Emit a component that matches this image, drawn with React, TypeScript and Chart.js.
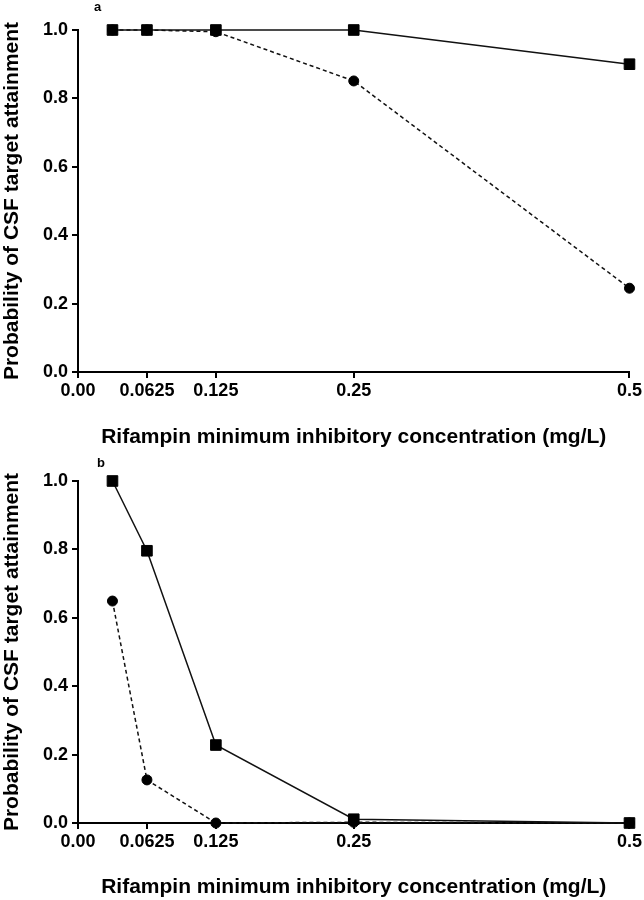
import React, { useEffect, useRef } from "react";
import { Chart, registerables } from "chart.js";

Chart.register(...registerables);

// MIC values (mg/L) at which attainment was computed
const micValues = [0.03125, 0.0625, 0.125, 0.25, 0.5];

// Panel a
const panelASolid = [1.0, 1.0, 1.0, 1.0, 0.9];
const panelADashed = [1.0, 1.0, 0.995, 0.851, 0.245];

// Panel b
const panelBSolid = [1.0, 0.796, 0.228, 0.011, 0.0];
const panelBDashed = [0.649, 0.126, 0.0, 0.002, 0.0];

// Axis ticks
const xTickValues = [0, 0.0625, 0.125, 0.25, 0.5];
const xTickLabels = ["0.00", "0.0625", "0.125", "0.25", "0.5"];

const xTitle = "Rifampin minimum inhibitory concentration (mg/L)";
const yTitle = "Probability of CSF target attainment";

const FONT = "'Liberation Sans', Arial, Helvetica, sans-serif";

function toPoints(ys: number[]) {
  return micValues.map((x, i) => ({ x, y: ys[i] }));
}

function makeConfig(solid: number[], dashed: number[], topPad: number, xAxisHeight: number, xTitleBottom: number): any {
  return {
    type: "line",
    data: {
      datasets: [
        {
          data: toPoints(solid),
          borderColor: "#111",
          borderWidth: 1.5,
          backgroundColor: "#000",
          pointStyle: "rect",
          pointRadius: 7.5,
          pointBorderWidth: 1,
          pointBorderColor: "#000",
          pointBackgroundColor: "#000",
          clip: false,
          tension: 0,
        },
        {
          data: toPoints(dashed),
          borderColor: "#111",
          borderWidth: 1.5,
          borderDash: [4, 3],
          backgroundColor: "#000",
          pointStyle: "circle",
          pointRadius: 5,
          pointBorderWidth: 1,
          pointBorderColor: "#000",
          pointBackgroundColor: "#000",
          clip: false,
          tension: 0,
        },
      ],
    },
    options: {
      animation: false,
      responsive: false,
      events: [],
      layout: { padding: { left: 0, right: 13, top: topPad, bottom: 0 } },
      plugins: { legend: { display: false }, tooltip: { enabled: false } },
      scales: {
        x: {
          type: "linear",
          min: 0,
          max: 0.5,
          afterBuildTicks: (s: any) => {
            s.ticks = xTickValues.map((v) => ({ value: v }));
          },
          afterFit: (s: any) => {
            s.height = xAxisHeight;
          },
          grid: {
            display: true,
            drawOnChartArea: false,
            drawTicks: true,
            tickLength: 6,
            color: "#000",
            lineWidth: 2,
          },
          border: { display: true, color: "#000", width: 2 },
          ticks: {
            autoSkip: false,
            maxRotation: 0,
            padding: 2,
            color: "#000",
            font: { family: FONT, size: 18, weight: "bold" },
            callback: (v: any) => {
              const i = xTickValues.indexOf(Number(v));
              return i >= 0 ? xTickLabels[i] : "";
            },
          },
          title: {
            display: true,
            text: xTitle,
            color: "#000",
            font: { family: FONT, size: 21, weight: "bold" },
            padding: { top: 0, bottom: xTitleBottom },
          },
        },
        y: {
          type: "linear",
          min: 0,
          max: 1,
          afterFit: (s: any) => {
            s.width = 78;
          },
          grid: {
            display: true,
            drawOnChartArea: false,
            drawTicks: true,
            tickLength: 6,
            color: "#000",
            lineWidth: 2,
          },
          border: { display: true, color: "#000", width: 2 },
          ticks: {
            stepSize: 0.2,
            padding: 4,
            color: "#000",
            font: { family: FONT, size: 18, weight: "bold" },
            callback: (v: any) => Number(v).toFixed(1),
          },
          title: {
            display: true,
            text: yTitle,
            color: "#000",
            font: { family: FONT, size: 21, weight: "bold" },
            padding: { top: 0, bottom: 0 },
          },
        },
      },
    },
  };
}

function Panel(props: { solid: number[]; dashed: number[]; top: number; topPad: number; xAxisHeight: number; xTitleBottom: number; label: string; labelX: number; labelY: number }) {
  const ref = useRef<HTMLCanvasElement | null>(null);
  useEffect(() => {
    if (!ref.current) return;
    const chart = new Chart(ref.current, makeConfig(props.solid, props.dashed, props.topPad, props.xAxisHeight, props.xTitleBottom));
    return () => chart.destroy();
  }, []);
  return (
    <div style={{ position: "absolute", left: 0, top: props.top, width: 644, height: 450 }}>
      <canvas ref={ref} width={644} height={450} style={{ width: 644, height: 450, display: "block" }} />
      <span
        style={{
          position: "absolute",
          left: props.labelX,
          top: props.labelY,
          fontFamily: FONT,
          fontWeight: "bold",
          fontSize: 13,
          lineHeight: "13px",
          color: "#000",
        }}
      >
        {props.label}
      </span>
    </div>
  );
}

export default function App() {
  return (
    <div style={{ position: "absolute", left: 0, top: 0, width: 644, height: 900, background: "#fff" }}>
      <Panel solid={panelASolid} dashed={panelADashed} top={0} topPad={30} xAxisHeight={78} xTitleBottom={0} label="a" labelX={94} labelY={0} />
      <Panel solid={panelBSolid} dashed={panelBDashed} top={450} topPad={31} xAxisHeight={77} xTitleBottom={0} label="b" labelX={97} labelY={6} />
    </div>
  );
}
